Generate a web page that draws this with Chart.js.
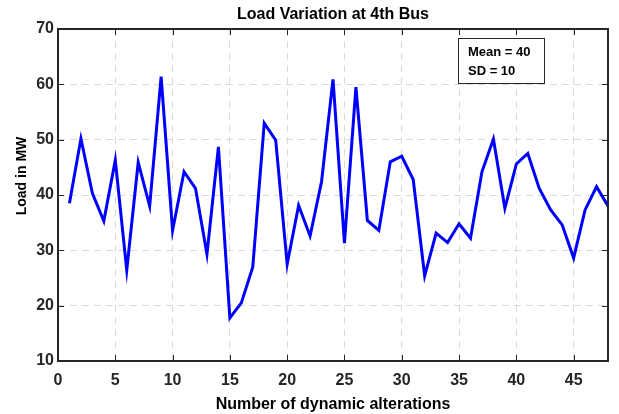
<!DOCTYPE html>
<html>
<head>
<meta charset="utf-8">
<script src="https://cdn.jsdelivr.net/npm/chart.js@4/dist/chart.umd.min.js"></script>
<style>
  html, body { margin: 0; padding: 0; background: #fff; }
  #wrap { width: 619px; height: 414px; }
</style>
</head>
<body>
<div id="wrap"><canvas id="chart_wrap" width="619" height="414"></canvas></div>
<script>
// load at the 4th bus for each dynamic alteration
const alterations = [1, 2, 3, 4, 5, 6, 7, 8, 9, 10, 11, 12, 13, 14, 15, 16, 17, 18, 19, 20, 21, 22, 23, 24,
  25, 26, 27, 28, 29, 30, 31, 32, 33, 34, 35, 36, 37, 38, 39, 40, 41, 42, 43, 44, 45, 46, 47, 48];
const loadMW = [38.5, 50.2, 40.3, 35.3, 46.3, 26.4, 45.9, 38.0, 61.4, 33.6,
  44.2, 41.2, 29.3, 48.7, 17.8, 20.5, 27.0, 53.0, 49.9, 27.5,
  38.1, 32.6, 42.4, 60.9, 31.3, 59.5, 35.4, 33.6, 46.0, 47.0,
  42.8, 25.4, 33.1, 31.4, 34.8, 32.2, 44.2, 50.1, 37.6, 45.6,
  47.5, 41.2, 37.3, 34.6, 28.6, 37.3, 41.5, 38.0];
const xTicks = [0, 5, 10, 15, 20, 25, 30, 35, 40, 45];
const yTicks = [10, 20, 30, 40, 50, 60, 70];
const statsLines = ['Mean = 40', 'SD = 10'];
const chartTitle = 'Load Variation at 4th Bus';
const yLabel = 'Load in MW';

const FONT = "'Liberation Sans', Arial, Helvetica, sans-serif";
const INK = '#262626';

// box around the axes, inward ticks on all four sides, title, y label and stats box
const matlabAxes = {
  id: 'matlabAxes',
  afterDraw(chart) {
    const { ctx, chartArea: a, scales } = chart;
    const tl = 6;
    ctx.save();
    ctx.strokeStyle = INK;
    ctx.lineWidth = 1;
    ctx.beginPath();
    xTicks.forEach(v => {
      const px = Math.round(scales.x.getPixelForValue(v)) + 0.5;
      ctx.moveTo(px, a.bottom); ctx.lineTo(px, a.bottom - tl);
      ctx.moveTo(px, a.top); ctx.lineTo(px, a.top + tl);
    });
    yTicks.forEach(v => {
      const py = Math.round(scales.y.getPixelForValue(v)) + 0.5;
      ctx.moveTo(a.left, py); ctx.lineTo(a.left + tl, py);
      ctx.moveTo(a.right, py); ctx.lineTo(a.right - tl, py);
    });
    ctx.stroke();

    ctx.lineWidth = 2;
    ctx.strokeRect(a.left, a.top, a.right - a.left, a.bottom - a.top);

    // title
    ctx.fillStyle = '#000';
    ctx.font = 'bold 16px ' + FONT;
    ctx.textAlign = 'center';
    ctx.textBaseline = 'middle';
    ctx.fillText(chartTitle, (a.left + a.right) / 2, 15);

    // y axis label, sits a bit above the middle of the axis
    ctx.save();
    ctx.translate(22, 176);
    ctx.rotate(-Math.PI / 2);
    ctx.font = 'bold 14px ' + FONT;
    ctx.fillText(yLabel, 0, 0);
    ctx.restore();

    // stats box
    const bx = a.left + 400, by = a.top + 9, bw = 86, bh = 45;
    ctx.fillStyle = '#fff';
    ctx.fillRect(bx, by, bw, bh);
    ctx.lineWidth = 1;
    ctx.strokeStyle = INK;
    ctx.strokeRect(bx + 0.5, by + 0.5, bw, bh);
    ctx.fillStyle = '#000';
    ctx.font = 'bold 13px ' + FONT;
    ctx.textAlign = 'left';
    statsLines.forEach((t, i) => ctx.fillText(t, bx + 10, by + 14 + i * 19));
    ctx.restore();
  }
};

const ctx = document.getElementById('chart_wrap').getContext('2d');
window.myChart = new Chart(ctx, {
  type: 'line',
  data: {
    datasets: [{
      data: alterations.map((x, i) => ({ x: x, y: loadMW[i] })),
      borderColor: '#0000ff',
      borderWidth: 3,
      pointRadius: 0,
      tension: 0,
      fill: false
    }]
  },
  options: {
    responsive: false,
    animation: false,
    devicePixelRatio: 1,
    layout: { padding: { top: 29, right: 11, bottom: 0, left: 0 } },
    plugins: { legend: { display: false }, tooltip: { enabled: false } },
    scales: {
      x: {
        type: 'linear',
        min: 0,
        max: 48,
        afterBuildTicks: s => { s.ticks = xTicks.map(v => ({ value: v })); },
        afterFit: s => { s.height = 53; },
        grid: { color: '#d9d9d9', lineWidth: 1, drawTicks: false },
        border: { display: false, dash: [7, 5] },
        ticks: { color: INK, font: { family: FONT, size: 16, weight: 'bold' }, padding: 10, maxRotation: 0 },
        title: {
          display: true,
          text: 'Number of dynamic alterations',
          color: '#000',
          font: { family: FONT, size: 16, weight: 'bold' },
          padding: { top: 0, bottom: 0 }
        }
      },
      y: {
        min: 10,
        max: 70,
        afterBuildTicks: s => { s.ticks = yTicks.map(v => ({ value: v })); },
        afterFit: s => { s.width = 58; },
        grid: { color: '#d9d9d9', lineWidth: 1, drawTicks: false },
        border: { display: false, dash: [7, 5] },
        ticks: { color: INK, font: { family: FONT, size: 16, weight: 'bold' }, padding: 4 }
      }
    }
  },
  plugins: [matlabAxes]
});
</script>
</body>
</html>
